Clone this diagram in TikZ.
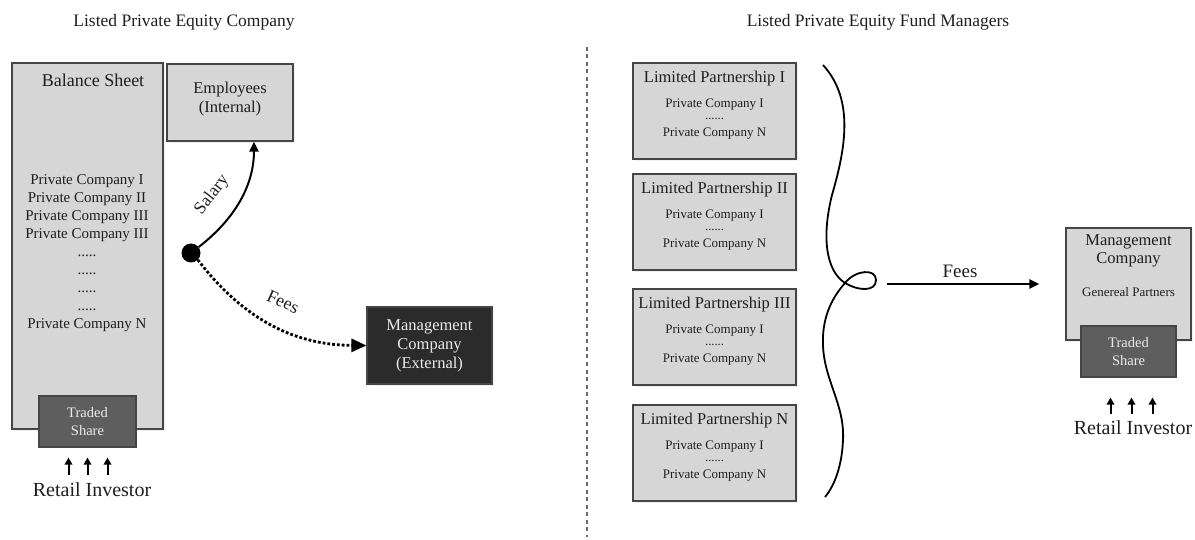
\documentclass[tikz,border=0pt]{standalone}
\usepackage{fontspec}
\setmainfont{Liberation Serif}
\usetikzlibrary{arrows.meta,shadows}
\definecolor{boxfill}{HTML}{D6D6D6}
\definecolor{boxline}{HTML}{454545}
\definecolor{darkfill}{HTML}{5E5E5E}
\definecolor{blackfill}{HTML}{2B2B2B}
\definecolor{txt}{HTML}{1E1E1E}
\definecolor{sepline}{HTML}{6A6A6A}
\newcommand\fsz[2]{\fontsize{#1}{#2}\selectfont}
\begin{document}
\begin{tikzpicture}[x=1pt,y=-1pt,
  every node/.style={text=txt},
  shadowed/.style={drop shadow={opacity=0.12,shadow xshift=2pt,shadow yshift=-2pt}},
  greybox/.style={draw=boxline,line width=1.2pt,fill=boxfill,inner sep=0pt,shadowed},
  darkbox/.style={draw=boxline,line width=1.2pt,fill=darkfill,inner sep=0pt},
  blackbox/.style={draw=boxline,line width=1.2pt,fill=blackfill,inner sep=0pt,shadowed},
  lighttext/.style={text=white!92!black,align=center},
  title/.style={font=\fsz{17.5}{20}},
  uparr/.style={line width=2pt,-{Triangle[length=7pt,width=7.5pt]}},
  flow/.style={line width=2pt,-{Triangle[length=10pt,width=9pt]}},
  feeflow/.style={line width=2.8pt,dash pattern=on 2.8pt off 2pt,-{Triangle[length=15pt,width=13pt]}},
  lpbox/.style={greybox,minimum width=163pt,minimum height=96pt},
]
\useasboundingbox (0,0) rectangle (1195,540);

% titles
\node[title] (t1) at (184,22) {Listed Private Equity Company};
\node[title] (t2) at (878,22) {Listed Private Equity Fund Managers};

% separator
\coordinate (septop) at (587,47);
\coordinate (sepbot) at (587,537);
\draw[sepline,line width=2pt,dash pattern=on 4pt off 3.5pt] (septop) -- (sepbot);

% ---------------- left side ----------------
\node[greybox,minimum width=151pt,minimum height=366pt] (bs) at (87.5,246) {};
\node[font=\fsz{18}{20}] (bst) at (93,80) {Balance Sheet};
\node[align=center,font=\fsz{15}{18}] (bsl) at (87,253)
  {Private Company I\\Private Company II\\Private Company III\\Private Company III\\.....\\.....\\.....\\.....\\Private Company N};

\node[darkbox,minimum width=97pt,minimum height=51pt,lighttext,font=\fsz{14.5}{17.5}] (ts1) at (87.5,421.5) {Traded\\Share};
\node[font=\fsz{20}{22}] (ri1) at (92,490) {Retail Investor};
\foreach \dx in {-19,0,20}
  \draw[uparr] ([xshift=\dx pt,yshift=-27pt]ts1.south) -- ([xshift=\dx pt,yshift=-10pt]ts1.south);

\node[greybox,minimum width=126pt,minimum height=77pt] (emp) at (230,102.5) {};
\node[align=center,font=\fsz{16.5}{19}] (empt) at (230,99) {Employees\\(Internal)};

\node[circle,fill=black,inner sep=0pt,minimum size=19pt] (dot) at (191,253) {};

\node[blackbox,minimum width=125pt,minimum height=77pt,lighttext,font=\fsz{16.5}{19}] (mge) at (429.5,345.5) {Management\\Company\\(External)};

\draw[flow] (dot) .. controls (240,215) and (254,180) .. ([xshift=24pt]emp.south);
\node[font=\fsz{17.5}{19},rotate=52] (sal) at (212,195) {Salary};

\draw[feeflow] (dot.south east) .. controls (240,315) and (290,345) .. (mge.west);
\node[font=\fsz{18}{20},rotate=-24] (fee1) at (283,302) {Fees};

% ---------------- right side ----------------
\foreach \i/\y/\r in {1/63/I,2/174/II,3/289/III,4/405/N}{
  \node[lpbox] (lp\i) at (714.5,\y+48) {};
  \node[font=\fsz{16.5}{18}] (lp\i t) at (714.5,\y+16) {Limited Partnership \r};
  \node[font=\fsz{13}{15}] (lp\i a) at (714.5,\y+42) {Private Company I};
  \node[font=\fsz{12.5}{14}] (lp\i b) at (714.5,\y+56) {......};
  \node[font=\fsz{13}{15}] (lp\i c) at (714.5,\y+71) {Private Company N};
}

% curly brace with loop
\draw[line width=1.8pt,black]
  (823,65) .. controls (855,100) and (845,150) .. (832,195)
  .. controls (822,235) and (825,270) .. (845,283)
  .. controls (858,291) and (876,292) .. (876,280)
  .. controls (876,268) and (855,270) .. (845,283)
  .. controls (830,300) and (822,320) .. (823,345)
  .. controls (824,380) and (845,405) .. (843,440)
  .. controls (842,465) and (835,485) .. (825,497);
\coordinate (bracetip) at (876,284);

\node[greybox,minimum width=125pt,minimum height=112pt] (mgr) at (1128.5,284) {};
\node[align=center,font=\fsz{16.5}{18}] (mgrt) at (1128.5,251) {Management\\Company};
\node[font=\fsz{13}{15}] (gp) at (1128.5,292) {Genereal Partners};
\node[darkbox,minimum width=95pt,minimum height=51pt,lighttext,font=\fsz{14.5}{17.5}] (ts2) at (1128.5,351.5) {Traded\\Share};
\node[font=\fsz{20}{22}] (ri2) at (1133,428) {Retail Investor};
\foreach \dx in {-18,3,24}
  \draw[uparr] ([xshift=\dx pt,yshift=-36pt]ts2.south) -- ([xshift=\dx pt,yshift=-20pt]ts2.south);

\draw[flow,shorten <=11pt,shorten >=26pt] (bracetip) -- (mgr.west);
\node[font=\fsz{19}{21}] (fee2) at (960,271) {Fees};
\end{tikzpicture}
\end{document}
